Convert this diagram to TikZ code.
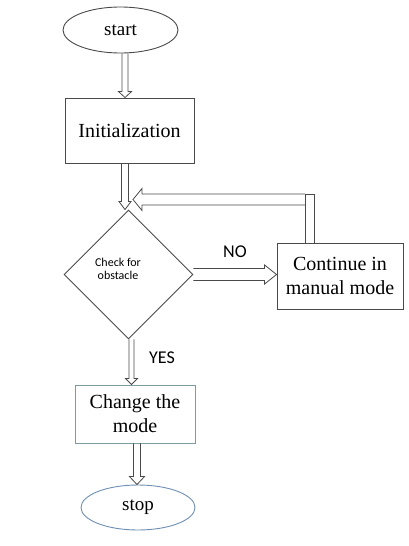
\documentclass[tikz,border=0pt]{standalone}
\usepackage{fontspec}
\setmainfont{Liberation Serif}
\newfontfamily\calib{Carlito}
\usetikzlibrary{shapes.geometric,calc}
\definecolor{lc}{HTML}{4A4A4A}
\definecolor{tealc}{HTML}{7C9CA2}
\definecolor{bluec}{HTML}{6F90B4}
\tikzset{
  serifbig/.style={font=\fontsize{20}{24}\selectfont},
  boxnode/.style={draw=lc, line width=0.9pt, rectangle, inner sep=0pt, align=center, serifbig},
  ovalnode/.style={draw=lc, line width=0.9pt, ellipse, inner sep=0pt, font=\fontsize{19}{23}\selectfont},
  % block arrow: #1 half shaft width, #2 half head width, #3 head length
  blk/.style n args={3}{draw=lc, line width=0.8pt, line join=miter, to path={
    let \p1=(\tikztostart), \p2=(\tikztotarget),
        \n1={veclen(\x2-\x1,\y2-\y1)},
        \n2={(\x2-\x1)/\n1}, \n3={(\y2-\y1)/\n1}
    in ({\x1-#1*\n3},{\y1+#1*\n2})
    -- ({\x2-#3*\n2-#1*\n3},{\y2-#3*\n3+#1*\n2})
    -- ({\x2-#3*\n2-#2*\n3},{\y2-#3*\n3+#2*\n2})
    -- (\p2)
    -- ({\x2-#3*\n2+#2*\n3},{\y2-#3*\n3-#2*\n2})
    -- ({\x2-#3*\n2+#1*\n3},{\y2-#3*\n3-#1*\n2})
    -- ({\x1+#1*\n3},{\y1-#1*\n2})}},
  % bar closed at the target end: #1 half width
  bar/.style={draw=lc, line width=0.8pt, line join=miter, to path={
    let \p1=(\tikztostart), \p2=(\tikztotarget),
        \n1={veclen(\x2-\x1,\y2-\y1)},
        \n2={(\x2-\x1)/\n1}, \n3={(\y2-\y1)/\n1}
    in ({\x1-#1*\n3},{\y1+#1*\n2})
    -- ({\x2-#1*\n3},{\y2+#1*\n2})
    -- ({\x2+#1*\n3},{\y2-#1*\n2})
    -- ({\x1+#1*\n3},{\y1-#1*\n2})}},
  lbl/.style={font=\calib\fontsize{18}{20}\selectfont, inner sep=0pt},
}
\begin{document}
\begin{tikzpicture}[x=1pt,y=-1pt]
\useasboundingbox[fill=white] (0,0) rectangle (409,546);
\node[ovalnode, minimum width=115pt, minimum height=46pt] (start) at (120.5,30) {start};
\node[boxnode, minimum width=129pt, minimum height=65pt] (init) at (129.5,130.5) {Initialization};
\node[draw=lc, line width=0.9pt, diamond, inner sep=0pt, minimum width=129pt, minimum height=129pt] (dia) at (128.5,274.5) {};
\node[font=\calib\fontsize{12}{13.5}\selectfont, align=center, inner sep=0pt] (chk) at (118,269) {Check for\\obstacle};
\node[boxnode, minimum width=126pt, minimum height=66pt] (cont) at (340,276) {Continue in\\manual mode};
\node[boxnode, draw=tealc, minimum width=120pt, minimum height=58pt] (chg) at (135,414) {Change the\\mode};
\node[ovalnode, draw=bluec, minimum width=114pt, minimum height=45pt] (stop) at (138,507.5) {stop};
\coordinate (x1) at (125,0);
\coordinate (x2) at (131.5,0);
\coordinate (x3) at (137,0);
\coordinate (fx) at (309.5,0);
\coordinate (ftop) at (309.5,194);
\coordinate (fcorner) at (305,199.5);
\coordinate (fb) at (133,199.5);
\draw[blk={3}{6.5}{6}] (start.south -| x1) to (init.north -| x1);
\draw[blk={3.5}{6}{8}] (init.south -| x1) to (dia.north -| x1);
\draw[blk={6}{9.5}{12}] (dia.east) to (dia.east -| cont.west);
\draw[bar=4.5] (cont.north -| fx) to (ftop);
\draw[blk={5.5}{11}{9}] (fcorner) to (fb);
\draw[blk={2.5}{6}{6}] (dia.south -| x2) to (chg.north -| x2);
\draw[blk={3.5}{7.5}{8}] (chg.south -| x3) to (stop.north -| x3);
\node[lbl] (no) at (235,252) {NO};
\node[lbl] (yes) at (162,358) {YES};
\end{tikzpicture}
\end{document}
